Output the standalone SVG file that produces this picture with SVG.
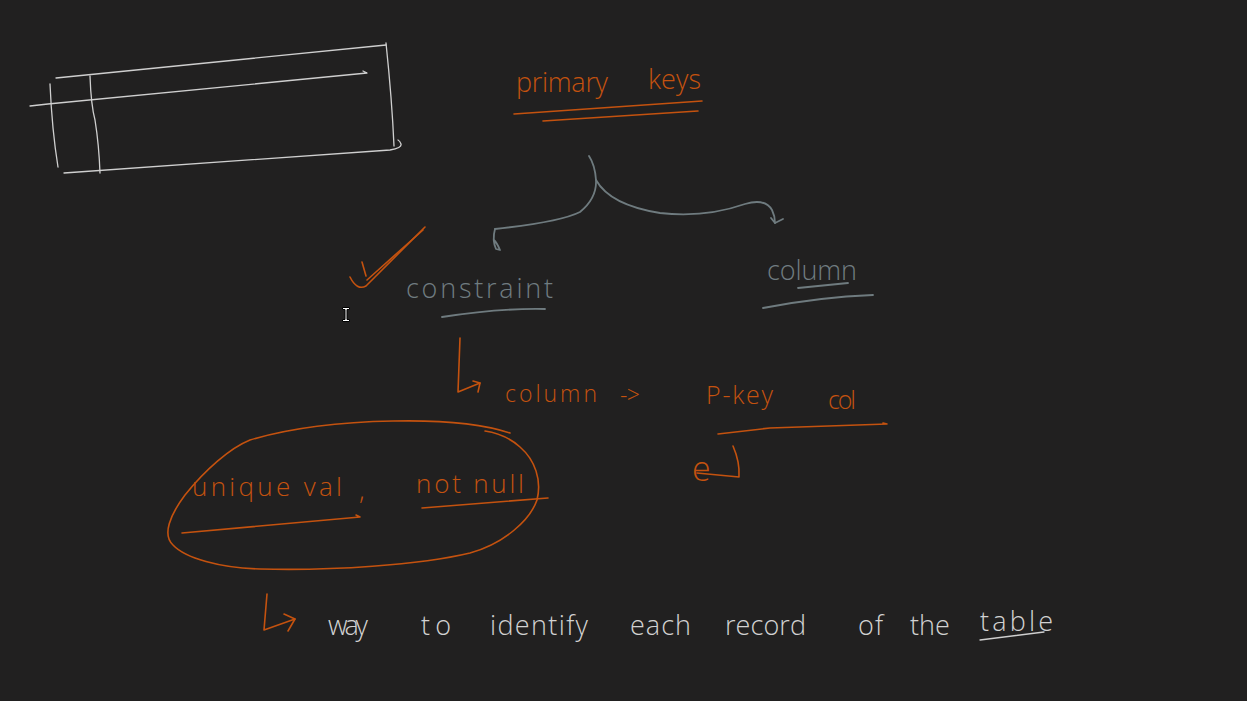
<svg xmlns="http://www.w3.org/2000/svg" width="1247" height="701" viewBox="0 0 1247 701">
<style>
.o{fill:none;stroke:#c4520f;stroke-width:1.6;stroke-linecap:round;stroke-linejoin:round}
.w{fill:none;stroke:#cfcfcf;stroke-width:1.3;stroke-linecap:round;stroke-linejoin:round}
.g{fill:none;stroke:#6f7b7f;stroke-width:1.8;stroke-linecap:round;stroke-linejoin:round}
.to{fill:#c4520f}
.tw{fill:#d2d2d2}
.tg{fill:#707c80}
text{font-family:"Open Sans","Liberation Sans",sans-serif;font-weight:300}
</style>
<rect width="1247" height="701" fill="#212020"/>

<g id="table-sketch">
<path class="w" d="M56,78 L386,45"/>
<path class="w" d="M30,106 L48,104 L367,73 L363,71"/>
<path class="w" d="M50,84 Q52,130 58,167"/>
<path class="w" d="M90,76 Q91,105 95,120 Q99,145 100,173"/>
<path class="w" d="M386,43 Q392,100 394,146"/>
<path class="w" d="M64,173 L390,150 Q402,148 401,144 Q400,141 398,140"/>
</g>

<g id="title">
<text class="to" x="516" y="92" font-size="27" textLength="92" lengthAdjust="spacing">primary</text>
<text class="to" x="648" y="89" font-size="27" textLength="53" lengthAdjust="spacing">keys</text>
<path class="o" d="M514,114 L702,101"/>
<path class="o" d="M543,121 L698,111"/>
</g>

<g id="connectors">
<path class="g" d="M589,156 Q595,165 596,180 Q597,198 580,212 Q560,222 495,229"/>
<path class="g" d="M495,229 Q492,240 496,249 L500,250 Q497,243 494,240"/>
<path class="g" d="M596,180 Q610,205 660,213 Q705,218 745,204 Q765,198 772,210 Q775,216 775,223"/>
<path class="g" d="M771,218 L775,223 L783,219"/>
</g>

<g id="check">
<path class="o" d="M350,277 Q357,291 366,286 L425,227"/>
<path class="o" d="M367,280 L423,230"/>
<path class="o" d="M362,262 L366,276"/>
</g>

<g id="constraint">
<text class="tg" x="406" y="298" font-size="27" textLength="147" lengthAdjust="spacing">constraint</text>
<path class="g" d="M442,317 Q500,308 545,309"/>
</g>

<g id="column-node">
<text class="tg" x="767" y="280" font-size="27" textLength="90" lengthAdjust="spacing">column</text>
<path class="g" d="M798,288 L848,283"/>
<path class="g" d="M763,308 Q820,297 873,295"/>
</g>

<g id="column-pkey">
<path class="o" d="M460,338 L458,392 L480,383"/>
<path class="o" d="M473,381 L480,383 L478,392"/>
<text class="to" x="505" y="402" font-size="23" textLength="92" lengthAdjust="spacing">column</text>
<text class="to" x="620" y="403" font-size="23" textLength="20" lengthAdjust="spacing">-&gt;</text>
<text class="to" x="706" y="404" font-size="25" textLength="67" lengthAdjust="spacing">P-key</text>
<text class="to" x="828" y="409" font-size="25" textLength="28" lengthAdjust="spacing">col</text>
<path class="o" d="M718,434 L770,428 L887,424 L883,423"/>
<text class="to" x="692" y="481" font-size="34">e</text>
<path class="o" d="M733,446 Q740,462 739,477 L697,473"/>
</g>

<g id="unique-notnull">
<path class="o" d="M510,433 C480,423 440,420 393,421 C340,422 290,428 250,440 C230,448 205,470 185,495 C170,515 162,535 173,545 C185,558 220,568 260,569 C330,571 420,565 470,553 C505,543 530,520 537,500 C542,480 535,460 520,447 C510,438 498,433 485,431"/>
<text class="to" x="192" y="496" font-size="26" textLength="150" lengthAdjust="spacing">unique val</text>
<text class="to" x="359" y="500" font-size="26">,</text>
<text class="to" x="416" y="493" font-size="26" textLength="108" lengthAdjust="spacing">not null</text>
<path class="o" d="M182,533 L360,517 L356,515"/>
<path class="o" d="M422,508 L548,498"/>
</g>

<g id="definition">
<path class="o" d="M267,594 L264,630 L295,619"/>
<path class="o" d="M284,614 L295,619 L288,631"/>
<text class="tw" x="328" y="635" font-size="27" textLength="40" lengthAdjust="spacing">way</text>
<text class="tw" x="421" y="635" font-size="27" textLength="30" lengthAdjust="spacing">to</text>
<text class="tw" x="490" y="635" font-size="27" textLength="98" lengthAdjust="spacing">identify</text>
<text class="tw" x="630" y="635" font-size="27" textLength="61" lengthAdjust="spacing">each</text>
<text class="tw" x="725" y="635" font-size="27" textLength="81" lengthAdjust="spacing">record</text>
<text class="tw" x="858" y="635" font-size="27" textLength="25" lengthAdjust="spacing">of</text>
<text class="tw" x="910" y="635" font-size="27">the</text>
<text class="tw" x="980" y="631" font-size="27" textLength="73" lengthAdjust="spacing">table</text>
<path class="w" d="M980,640 L1044,632"/>
</g>

<g id="cursor">
<path d="M342.5,307.5 L349.5,307.5 L349.5,309.5 L347,309.5 L347,319.5 L349.5,319.5 L349.5,321.5 L342.5,321.5 L342.5,319.5 L345,319.5 L345,309.5 L342.5,309.5 Z" fill="#ffffff" stroke="#000000" stroke-width="1"/>
</g>
</svg>
